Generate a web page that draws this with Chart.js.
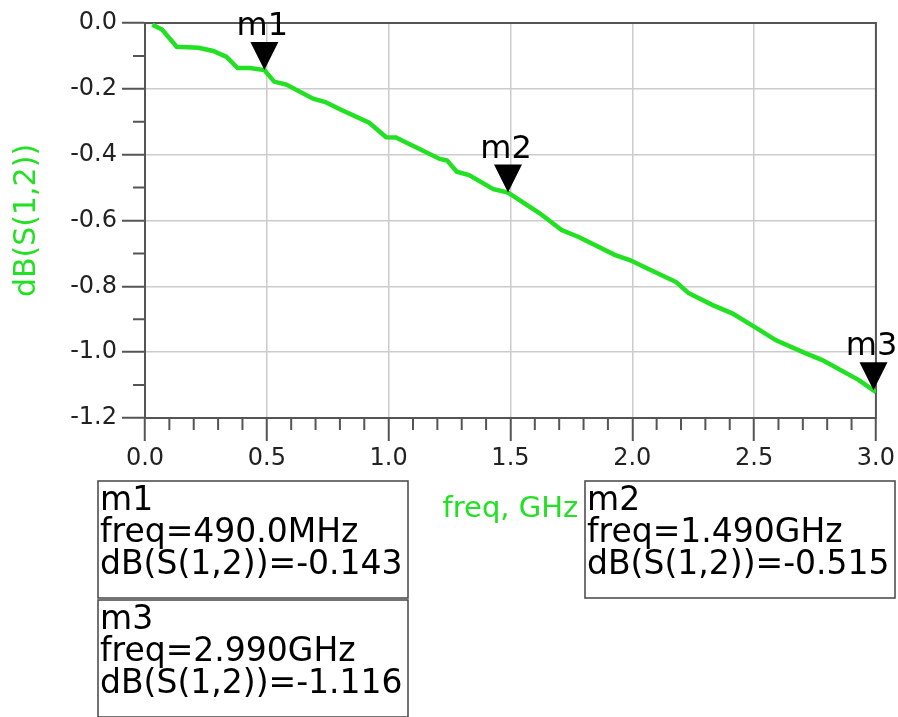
<!DOCTYPE html>
<html>
<head>
<meta charset="utf-8">
<script src="https://cdn.jsdelivr.net/npm/chart.js@4/dist/chart.umd.min.js"></script>
<style>
  body { margin: 0; background: #fff; }
  canvas { display: block; }
</style>
</head>
<body>
<canvas id="s12Chart" width="898" height="717"></canvas>
<script>
// trace
const freqGHz = [0.03, 0.07, 0.13, 0.22, 0.28, 0.335, 0.38, 0.43, 0.49, 0.53, 0.58, 0.69, 0.74, 0.80, 0.92, 0.99, 1.03,
  1.21, 1.24, 1.28, 1.33, 1.43, 1.49, 1.62, 1.71, 1.78, 1.93, 1.99, 2.06, 2.18, 2.23, 2.33, 2.41, 2.51, 2.59, 2.71, 2.78, 2.93, 2.99, 3.0];
const dbS12 = [-0.005, -0.02, -0.072, -0.075, -0.085, -0.103, -0.137, -0.137, -0.143, -0.178, -0.187, -0.230, -0.240, -0.262, -0.303, -0.347, -0.348,
  -0.413, -0.418, -0.452, -0.462, -0.505, -0.515, -0.578, -0.629, -0.650, -0.705, -0.720, -0.745, -0.787, -0.820, -0.857, -0.882, -0.927, -0.964, -1.003, -1.024, -1.085, -1.116, -1.122];

// markers
const markerNames = ['m1', 'm2', 'm3'];
const markerFreq = [0.49, 1.49, 2.99];
const markerDb = [-0.143, -0.515, -1.116];

const GREEN = '#22e022';
const FONT = 'DejaVu Sans';

function freqText(f) {
  if (f < 1) return 'freq=' + (f * 1000).toFixed(1) + 'MHz';
  return 'freq=' + f.toFixed(3) + 'GHz';
}

const markerPlugin = {
  id: 'markers',
  beforeDatasetsDraw(chart) {
    const ctx = chart.ctx;
    const a = chart.chartArea;
    const xs = chart.scales.x, ys = chart.scales.y;
    ctx.save();
    ctx.strokeStyle = '#555';
    ctx.lineWidth = 2;
    // minor ticks
    ctx.beginPath();
    for (let i = 1; i < 30; i++) {
      if (i % 5 === 0) continue;
      const px = xs.getPixelForValue(i / 10);
      ctx.moveTo(px, a.bottom);
      ctx.lineTo(px, a.bottom + 12);
    }
    for (let i = 1; i < 12; i += 2) {
      const py = ys.getPixelForValue(-i / 10);
      ctx.moveTo(a.left - 12, py);
      ctx.lineTo(a.left, py);
    }
    ctx.stroke();
    ctx.strokeRect(a.left, a.top, a.right - a.left, a.bottom - a.top);
    ctx.restore();
  },
  afterDatasetsDraw(chart) {
    const ctx = chart.ctx;
    const xs = chart.scales.x, ys = chart.scales.y;
    ctx.save();
    ctx.fillStyle = '#000';
    ctx.font = '32px "' + FONT + '"';
    ctx.textAlign = 'center';
    ctx.textBaseline = 'alphabetic';
    markerNames.forEach((name, i) => {
      const px = xs.getPixelForValue(markerFreq[i]);
      const py = ys.getPixelForValue(markerDb[i]);
      ctx.beginPath();
      ctx.moveTo(px, py);
      ctx.lineTo(px - 14, py - 28);
      ctx.lineTo(px + 14, py - 28);
      ctx.closePath();
      ctx.fill();
      ctx.fillText(name, px - 2, py - 35);
    });
    ctx.restore();
  },
  afterDraw(chart) {
    const ctx = chart.ctx;
    const boxes = [[98, 481], [585, 481], [98, 600]];
    ctx.save();
    ctx.font = '33px "' + FONT + '"';
    ctx.textAlign = 'left';
    ctx.textBaseline = 'alphabetic';
    markerNames.forEach((name, i) => {
      const [bx, by] = boxes[i];
      ctx.fillStyle = '#fff';
      ctx.fillRect(bx, by, 310, 117);
      ctx.strokeStyle = '#444';
      ctx.lineWidth = 1.5;
      ctx.strokeRect(bx, by, 310, 117);
      ctx.fillStyle = '#000';
      ctx.fillText(name, bx + 2, by + 29);
      ctx.fillText(freqText(markerFreq[i]), bx + 2, by + 61);
      ctx.fillText('dB(S(1,2))=' + markerDb[i].toFixed(3), bx + 2, by + 93);
    });
    ctx.restore();
  }
};

const points = freqGHz.map((f, i) => ({ x: f, y: dbS12[i] }));

new Chart(document.getElementById('s12Chart'), {
  type: 'line',
  data: {
    datasets: [{
      data: points,
      borderColor: GREEN,
      borderWidth: 4.5,
      pointRadius: 0,
      tension: 0
    }]
  },
  options: {
    responsive: false,
    animation: false,
    layout: { padding: { left: 0, top: 23, right: 21, bottom: 179 } },
    plugins: {
      legend: { display: false },
      tooltip: { enabled: false }
    },
    scales: {
      x: {
        type: 'linear',
        min: 0,
        max: 3,
        ticks: {
          stepSize: 0.5,
          maxRotation: 0,
          padding: 3,
          color: '#222',
          font: { family: FONT, size: 24 },
          callback: v => v.toFixed(1)
        },
        grid: { color: '#cccccc', lineWidth: 1.5, tickLength: 23, tickColor: '#555', tickWidth: 2 },
        border: { color: '#555', width: 2 },
        title: {
          display: true,
          text: 'freq, GHz',
          color: GREEN,
          font: { family: FONT, size: 29 },
          padding: { top: 0, bottom: 11 }
        },
        afterFit: s => { s.height = 120; }
      },
      y: {
        min: -1.2,
        max: 0,
        ticks: {
          stepSize: 0.2,
          padding: 5,
          color: '#222',
          font: { family: FONT, size: 24 },
          callback: v => v.toFixed(1)
        },
        grid: { color: '#cccccc', lineWidth: 1.5, tickLength: 23, tickColor: '#555', tickWidth: 2 },
        border: { color: '#555', width: 2 },
        title: {
          display: true,
          text: 'dB(S(1,2))',
          color: GREEN,
          font: { family: FONT, size: 30 },
          padding: { top: 9, bottom: 0 }
        },
        afterFit: s => { s.width = 145; }
      }
    }
  },
  plugins: [markerPlugin]
});
</script>
</body>
</html>
